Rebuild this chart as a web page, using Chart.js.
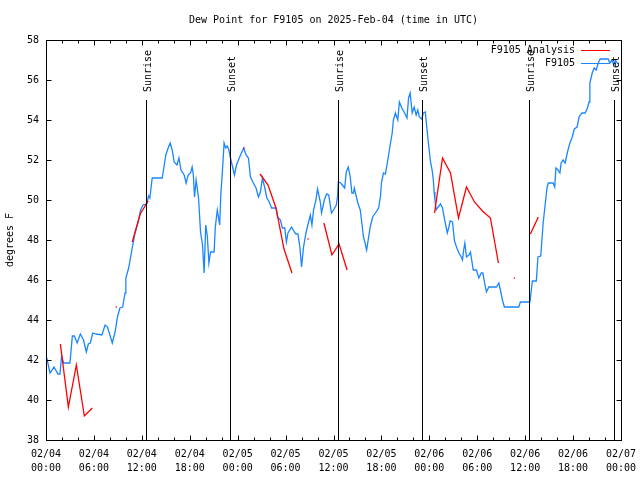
<!DOCTYPE html>
<html lang="en">
<head>
<meta charset="UTF-8">
<title>Dew Point for F9105</title>
<script src="https://cdn.jsdelivr.net/npm/chart.js"></script>
<style>
  html, body { margin: 0; padding: 0; background: #fff; }
  #wrap { width: 640px; height: 480px; }
</style>
</head>
<body>
<div id="wrap"><canvas id="dewChart" width="640" height="480"></canvas></div>
<script>
// all times are hours since 2025-02-04 00:00 UTC
var stationHours = [
  0.1, 0.5, 1.0, 1.5, 1.75, 1.95, 2.2, 3.0, 3.3, 3.55, 3.9, 4.3, 4.7, 5.05, 5.3, 5.55, 5.85, 6.25, 7.0, 7.4,
  7.7, 8.3, 8.65, 8.95, 9.25, 9.6, 9.9, 10.0, 10.35, 10.75, 11.15, 11.5, 11.85, 12.15, 12.6, 12.85, 13.0, 13.3, 14.55, 14.75,
  15.0, 15.3, 15.55, 15.8, 16.05, 16.4, 16.65, 16.9, 17.3, 17.55, 17.8, 18.1, 18.3, 18.45, 18.6, 18.8, 19.1, 19.35, 19.6, 19.8,
  20.0, 20.2, 20.4, 20.6, 21.05, 21.2, 21.45, 21.75, 21.9, 22.1, 22.3, 22.5, 22.7, 22.9, 23.1, 23.45, 23.6, 23.85, 24.2, 24.75,
  25.05, 25.35, 25.6, 25.9, 26.3, 26.6, 26.85, 27.1, 27.4, 27.65, 27.95, 28.25, 28.8, 29.0, 29.35, 29.6, 29.9, 30.1, 30.3, 30.75,
  31.1, 31.3, 31.55, 31.8, 32.0, 32.25, 32.55, 32.85, 33.1, 33.3, 33.5, 33.8, 34.0, 34.35, 34.5, 34.85, 35.15, 35.4, 35.75, 36.0,
  36.35, 36.5, 36.6, 36.9, 37.1, 37.4, 37.6, 37.85, 38.1, 38.3, 38.5, 38.6, 39.05, 39.35, 39.55, 39.75, 39.95, 40.15, 40.4, 40.6,
  40.9, 41.25, 41.65, 41.9, 42.0, 42.25, 42.5, 42.8, 43.1, 43.35, 43.5, 43.75, 44.05, 44.25, 44.55, 44.9, 45.2, 45.4, 45.6, 45.85,
  46.1, 46.35, 46.55, 46.75, 47.05, 47.25, 47.5, 47.65, 47.95, 48.15, 48.35, 48.5, 48.6, 48.7, 48.85, 49.1, 49.4, 49.65, 49.85, 50.05,
  50.25, 50.45, 50.6, 50.9, 51.15, 51.4, 51.7, 52.0, 52.15, 52.3, 52.45, 52.65, 52.95, 53.15, 53.4, 53.5, 53.9, 54.2, 54.5, 54.7,
  54.9, 55.15, 55.45, 56.4, 56.7, 56.9, 57.15, 57.4, 59.2, 59.4, 60.6, 60.8, 60.9, 61.4, 61.6, 61.95, 62.1, 62.25, 62.5, 62.75,
  62.9, 63.5, 63.7, 63.85, 64.1, 64.35, 64.5, 64.75, 65.0, 65.3, 65.6, 65.9, 66.15, 66.5, 66.75, 67.1, 67.5, 67.8, 68.0, 68.1,
  68.4, 68.65, 68.9, 69.15, 69.4, 70.4, 70.6, 70.9, 71.1, 71.3, 71.6
];
var stationDewpt = [
  42.1, 41.35, 41.65, 41.3, 41.3, 42.2, 41.85, 41.85, 43.2, 43.2, 42.85, 43.3, 43.0, 42.4, 42.8, 42.85, 43.35, 43.3, 43.25, 43.75,
  43.65, 42.85, 43.4, 44.15, 44.6, 44.65, 45.35, 46.1, 46.6, 47.5, 48.35, 48.85, 49.5, 49.75, 49.8, 50.2, 50.1, 51.1, 51.1, 51.6,
  52.25, 52.6, 52.85, 52.5, 51.9, 51.75, 52.1, 51.5, 51.25, 50.85, 51.25, 51.35, 51.65, 51.25, 50.15, 51.0, 50.1, 48.4, 47.75, 46.35,
  48.75, 48.2, 46.85, 47.4, 47.4, 48.65, 49.5, 48.75, 50.35, 51.5, 52.85, 52.6, 52.7, 52.5, 52.1, 51.5, 51.25, 51.75, 52.1, 52.6,
  52.25, 52.1, 51.15, 50.9, 50.6, 50.15, 50.4, 51.1, 50.6, 50.1, 49.9, 49.6, 49.6, 49.15, 49.0, 48.6, 48.6, 47.9, 48.35, 48.65,
  48.4, 48.3, 48.3, 47.6, 46.65, 47.65, 48.35, 48.85, 49.25, 48.75, 49.5, 50.0, 50.55, 49.9, 49.35, 50.0, 50.3, 50.25, 49.35, 49.5,
  49.75, 50.15, 50.9, 50.85, 50.75, 50.6, 51.4, 51.65, 51.15, 50.35, 50.35, 50.6, 49.85, 49.5, 48.85, 48.15, 47.85, 47.5, 48.15, 48.65,
  49.15, 49.35, 49.6, 50.25, 50.85, 51.35, 51.3, 52.0, 52.75, 53.35, 54.0, 54.35, 54.0, 54.9, 54.6, 54.35, 54.1, 55.1, 55.35, 54.35,
  54.65, 54.25, 54.5, 54.15, 54.05, 54.35, 54.4, 53.75, 52.6, 51.9, 51.5, 51.0, 50.4, 50.0, 49.5, 49.65, 49.8, 49.6, 49.15, 48.75,
  48.35, 48.65, 48.95, 48.9, 47.95, 47.65, 47.35, 47.15, 47.0, 47.5, 47.85, 47.15, 47.25, 47.4, 46.75, 46.5, 46.5, 46.1, 46.35, 46.35,
  45.9, 45.4, 45.65, 45.65, 45.85, 45.5, 45.0, 44.65, 44.65, 44.9, 44.9, 45.6, 45.95, 45.95, 47.15, 47.2, 48.0, 48.85, 49.75, 50.65,
  50.85, 50.85, 50.65, 51.6, 51.5, 51.35, 51.85, 52.0, 51.85, 52.4, 52.85, 53.15, 53.55, 53.65, 54.15, 54.35, 54.35, 54.6, 54.9, 55.85,
  56.35, 56.6, 56.5, 56.85, 57.05, 57.05, 56.85, 57.0, 56.75, 57.0, 56.8
];

// analysis values, null where there is no analysis (gap in the line)
var analysisHours = [1.8, 2.8, 3.8, 4.8, 5.8, 7.3, 8.8, 9.8, 10.8, 11.8, 12.8, 18.8, 24.8, 25.8, 26.8, 27.8, 28.8, 29.8, 30.8, 31.8,
  32.8, 33.8, 34.8, 35.8, 36.7, 37.7, 43.2, 48.65, 49.65, 50.65, 51.65, 52.65, 53.65, 54.65, 55.65, 56.65, 57.65, 58.65, 59.65, 60.65, 61.65];
var analysisDewpt = [42.8, 39.65, 41.75, 39.2, 39.6, null, 44.65, null, 47.9, 49.3, 49.95, null, 52.6, null, 51.3, 50.75, 49.6, 47.55, 46.35, null,
  48.05, null, 48.85, 47.25, 47.8, 46.5, null, 49.35, 52.1, 51.35, 49.1, 50.65, 49.9, 49.45, 49.1, 46.85, null, 46.1, null, 48.3, 49.15];

var sunHours = [12.5, 23.05, 36.6, 47.05, 60.5, 71.15];
var sunLabels = ['Sunrise', 'Sunset', 'Sunrise', 'Sunset', 'Sunrise', 'Sunset'];

var xTickLabels = ['02/04 00:00', '02/04 06:00', '02/04 12:00', '02/04 18:00', '02/05 00:00', '02/05 06:00', '02/05 12:00',
  '02/05 18:00', '02/06 00:00', '02/06 06:00', '02/06 12:00', '02/06 18:00', '02/07 00:00'];
var yTicks = [38, 40, 42, 44, 46, 48, 50, 52, 54, 56, 58];

var FONT = 'DejaVu Sans Mono';

function toPoints(xs, ys) {
  return xs.map(function (x, i) { return { x: x, y: ys[i] }; });
}

// a single analysis value between two gaps still shows as a dot
function isolatedRadius(ctx) {
  var d = ctx.dataset.data, i = ctx.dataIndex;
  var prev = d[i - 1], next = d[i + 1];
  var lonely = (!prev || prev.y === null) && (!next || next.y === null);
  return lonely ? 0.8 : 0;
}

const whiteBg = {
  id: 'whiteBg',
  beforeDraw: function (chart) {
    var ctx = chart.ctx;
    ctx.save();
    ctx.fillStyle = '#fff';
    ctx.fillRect(0, 0, chart.width, chart.height);
    ctx.restore();
  }
};

// sunrise / sunset markers
const sunMarks = {
  id: 'sunMarks',
  afterDatasetsDraw: function (chart) {
    var ctx = chart.ctx, xs = chart.scales.x, ys = chart.scales.y;
    var top = ys.getPixelForValue(55), bottom = chart.chartArea.bottom;
    ctx.save();
    ctx.strokeStyle = '#000';
    ctx.lineWidth = 1;
    ctx.fillStyle = '#000';
    ctx.font = '10px ' + FONT;
    sunHours.forEach(function (h, i) {
      var px = Math.round(xs.getPixelForValue(h)) + 0.5;
      ctx.beginPath();
      ctx.moveTo(px, top);
      ctx.lineTo(px, bottom);
      ctx.stroke();
      ctx.save();
      ctx.translate(px + 1.5, top - 8);
      ctx.rotate(-Math.PI / 2);
      ctx.textAlign = 'left';
      ctx.textBaseline = 'middle';
      ctx.fillText(sunLabels[i], 0, 0);
      ctx.restore();
    });
    ctx.restore();
  }
};

// gnuplot style frame with inward ticks on all four sides, and the key
const frameAndKey = {
  id: 'frameAndKey',
  afterDraw: function (chart) {
    var ctx = chart.ctx, a = chart.chartArea, xs = chart.scales.x, ys = chart.scales.y;
    var L = Math.round(a.left) + 0.5, R = Math.round(a.right) + 0.5;
    var T = Math.round(a.top) + 0.5, B = Math.round(a.bottom) + 0.5;
    ctx.save();
    ctx.strokeStyle = '#000';
    ctx.lineWidth = 1;
    ctx.strokeRect(L, T, R - L, B - T);
    ctx.beginPath();
    for (var h = 0; h <= 72; h += 2) {
      var px = Math.round(xs.getPixelForValue(h)) + 0.5;
      var len = (h % 6 === 0) ? 5 : 3;
      ctx.moveTo(px, B); ctx.lineTo(px, B - len);
      ctx.moveTo(px, T); ctx.lineTo(px, T + len);
    }
    yTicks.forEach(function (v) {
      var py = Math.round(ys.getPixelForValue(v)) + 0.5;
      ctx.moveTo(L, py); ctx.lineTo(L + 5, py);
      ctx.moveTo(R, py); ctx.lineTo(R - 5, py);
    });
    ctx.stroke();

    // key, top right inside the plot
    ctx.font = '10px ' + FONT;
    ctx.textAlign = 'right';
    ctx.textBaseline = 'middle';
    chart.data.datasets.forEach(function (ds, i) {
      var y = 50 + i * 13;
      ctx.fillStyle = '#000';
      ctx.fillText(ds.label, 575, y);
      ctx.strokeStyle = ds.borderColor;
      ctx.beginPath();
      ctx.moveTo(581, y + 0.5);
      ctx.lineTo(610, y + 0.5);
      ctx.stroke();
    });
    ctx.restore();
  }
};

Chart.register(whiteBg, sunMarks, frameAndKey);

new Chart(document.getElementById('dewChart').getContext('2d'), {
  type: 'line',
  data: {
    datasets: [
      {
        label: 'F9105 Analysis',
        data: toPoints(analysisHours, analysisDewpt),
        borderColor: '#ff0000',
        backgroundColor: '#ff0000',
        borderWidth: 1.3,
        pointRadius: isolatedRadius,
        pointBorderWidth: 0,
        spanGaps: false,
        tension: 0
      },
      {
        label: 'F9105',
        data: toPoints(stationHours, stationDewpt),
        borderColor: '#1a86ff',
        backgroundColor: '#1a86ff',
        borderWidth: 1.3,
        pointRadius: 0,
        tension: 0
      }
    ]
  },
  options: {
    responsive: false,
    animation: false,
    devicePixelRatio: 1,
    layout: { padding: { left: 0, right: 19, top: 0, bottom: 0 } },
    scales: {
      x: {
        type: 'linear',
        min: 0,
        max: 72,
        afterFit: function (s) { s.height = 40; s.paddingLeft = 0; s.paddingRight = 0; },
        grid: { display: false, drawTicks: false },
        border: { display: false },
        ticks: {
          stepSize: 2,
          autoSkip: false,
          maxRotation: 0,
          padding: 7,
          color: '#000',
          font: { family: FONT, size: 10, lineHeight: 1.4 },
          callback: function (v) {
            return v % 6 === 0 ? xTickLabels[v / 6].split(' ') : '';
          }
        }
      },
      y: {
        min: 38,
        max: 58,
        afterFit: function (s) { s.width = 46; s.paddingTop = 0; s.paddingBottom = 0; },
        grid: { display: false, drawTicks: false },
        border: { display: false },
        title: {
          display: true,
          text: 'degrees F',
          color: '#000',
          font: { family: FONT, size: 10 },
          padding: { top: 4, bottom: 4 }
        },
        ticks: {
          stepSize: 2,
          padding: 7,
          color: '#000',
          font: { family: FONT, size: 10 },
          callback: function (v) { return yTicks.indexOf(v) >= 0 ? v : ''; }
        }
      }
    },
    plugins: {
      legend: { display: false },
      tooltip: { enabled: false },
      title: {
        display: true,
        fullSize: false,
        text: 'Dew Point for F9105 on 2025-Feb-04 (time in UTC)',
        color: '#000',
        font: { family: FONT, size: 10, weight: 'normal' },
        padding: { top: 14, bottom: 14 }
      }
    }
  }
});
</script>
</body>
</html>
